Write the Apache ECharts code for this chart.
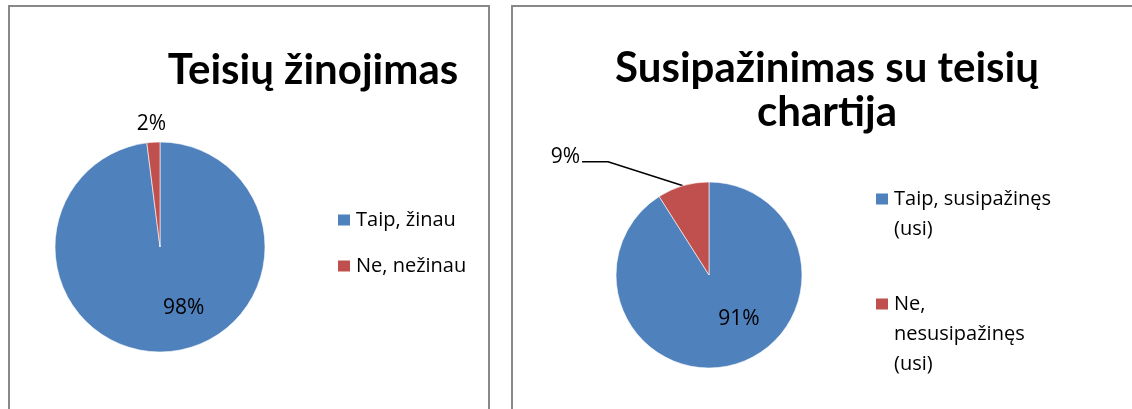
<!DOCTYPE html>
<html lang="lt">
<head>
<meta charset="UTF-8">
<title>Teisių žinojimas</title>
<script src="https://cdn.jsdelivr.net/npm/echarts@6/dist/echarts.min.js"></script>
<style>
  html, body { margin: 0; padding: 0; background: #fff; }
  #container { width: 1132px; height: 409px; }
</style>
</head>
<body>
<div id="container"></div>
<script>
    // kairysis grafikas
    var leftTitle = 'Teisių žinojimas';
    var leftNames = ['Taip, žinau', 'Ne, nežinau'];
    var leftValues = [98, 2];

    // dešinysis grafikas
    var rightTitle = 'Susipažinimas su teisių\nchartija';
    var rightNames = ['Taip, susipažinęs (usi)', 'Ne, nesusipažinęs (usi)'];
    var rightLegendText = ['Taip, susipažinęs\n(usi)', 'Ne,\nnesusipažinęs\n(usi)'];
    var rightValues = [91, 9];

    var colors = ['#4F81BD', '#C0504D'];
    var titleFont = 'Lato';
    var font = '"Open Sans"';

    var chart = echarts.init(document.getElementById('container'));

    // etiketės perkeliamos nuo lanko taško (labelLinePoints[0])
    function labelMover(offsets) {
        return function (params) {
            var p = params.labelLinePoints;
            if (!p) return {};
            var off = offsets[params.dataIndex];
            var res = {
                x: p[0][0] + off[0],
                y: p[0][1] + off[1],
                align: off[2] || 'center',
                verticalAlign: 'middle'
            };
            if (off[3]) {
                // linija su lūžiu kaip Excel
                res.labelLinePoints = [
                    p[0],
                    [p[0][0] + off[3][0], p[0][1] + off[3][1]],
                    [p[0][0] + off[4][0], p[0][1] + off[4][1]]
                ];
            }
            return res;
        };
    }

    function pieData(names, values, lineShown) {
        return names.map(function (n, i) {
            return {
                name: n,
                value: values[i],
                labelLine: {show: lineShown[i]}
            };
        });
    }

    var lh = 30;

    // dešinės legendos elementas: tuščios eilutės viršuje, kad pirmoji
    // teksto eilutė būtų ties kvadratėliu
    function rightLegend(i, iconCenter) {
        var lines = rightLegendText[i].split('\n').length;
        var blank = new Array(lines).join(' \n');
        return {
            orient: 'vertical',
            left: 874,
            top: iconCenter - (2 * lines - 1) * lh / 2,
            padding: 0,
            itemWidth: 14,
            itemHeight: 13,
            icon: 'rect',
            selectedMode: false,
            data: [rightNames[i]],
            formatter: function () {
                return blank + rightLegendText[i];
            },
            textStyle: {fontFamily: font, fontSize: 20, color: '#000', lineHeight: lh}
        };
    }

    var option = {
        animation: false,
        color: colors,
        title: [{
            text: leftTitle,
            left: 313,
            top: 48,
            padding: 0,
            textAlign: 'center',
            textVerticalAlign: 'top',
            textStyle: {fontFamily: titleFont, fontSize: 42, fontWeight: 'bold', color: '#000', lineHeight: 44}
        }, {
            text: rightTitle,
            left: 827,
            top: 46,
            padding: 0,
            textAlign: 'center',
            textVerticalAlign: 'top',
            textStyle: {fontFamily: titleFont, fontSize: 42, fontWeight: 'bold', color: '#000', lineHeight: 44}
        }],
        legend: [{
            orient: 'vertical',
            left: 336,
            top: 206,
            padding: 0,
            itemWidth: 14,
            itemHeight: 13,
            itemGap: 18,
            icon: 'rect',
            selectedMode: false,
            data: leftNames,
            textStyle: {fontFamily: font, fontSize: 20, color: '#000', lineHeight: 28}
        }, rightLegend(0, 199), rightLegend(1, 304)],
        graphic: [{
            type: 'rect',
            shape: {x: 9, y: 6, width: 480, height: 420},
            style: {fill: 'none', stroke: '#888', lineWidth: 2},
            silent: true
        }, {
            type: 'rect',
            shape: {x: 512, y: 6, width: 640, height: 420},
            style: {fill: 'none', stroke: '#888', lineWidth: 2},
            silent: true
        }],
        series: [{
            type: 'pie',
            center: [160, 247],
            radius: 105,
            startAngle: 90,
            clockwise: true,
            avoidLabelOverlap: false,
            itemStyle: {borderColor: '#fff', borderWidth: 0.6},
            label: {
                show: true,
                position: 'outside',
                formatter: '{c}%',
                fontFamily: font,
                fontSize: 21,
                color: '#000'
            },
            labelLine: {show: false},
            labelLayout: labelMover([[17, -44], [-2, -18]]),
            data: pieData(leftNames, leftValues, [false, false])
        }, {
            type: 'pie',
            center: [709, 275],
            radius: 93,
            startAngle: 90,
            clockwise: true,
            avoidLabelOverlap: false,
            itemStyle: {borderColor: '#fff', borderWidth: 0.6},
            label: {
                show: true,
                position: 'outside',
                formatter: '{c}%',
                fontFamily: font,
                fontSize: 21,
                color: '#000'
            },
            labelLine: {show: true, lineStyle: {color: '#000', width: 1.5}},
            labelLayout: labelMover([[4, -45], [-103, -29, 'right', [-75, -24], [-101, -24]]]),
            data: pieData(rightNames, rightValues, [false, true])
        }]
    };

    chart.setOption(option);
</script>
</body>
</html>
